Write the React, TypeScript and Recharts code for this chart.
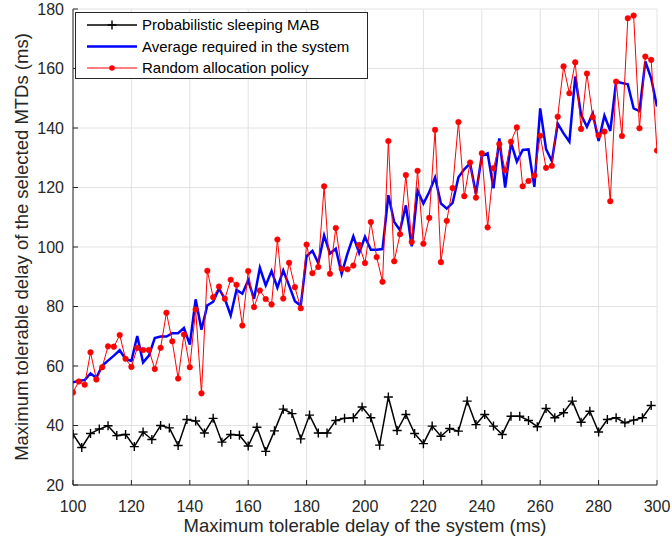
import React from 'react';
import { LineChart, Line, XAxis, YAxis, CartesianGrid, Legend } from 'recharts';

const FONT = '"Liberation Sans", Arial, Helvetica, sans-serif';
const AXIS_COLOR = '#262626';

// x positions of the two policies sampled every 2 ms
const delayX = [
  100, 102, 104, 106, 108, 110, 112, 114, 116, 118,
  120, 122, 124, 126, 128, 130, 132, 134, 136, 138,
  140, 142, 144, 146, 148, 150, 152, 154, 156, 158,
  160, 162, 164, 166, 168, 170, 172, 174, 176, 178,
  180, 182, 184, 186, 188, 190, 192, 194, 196, 198,
  200, 202, 204, 206, 208, 210, 212, 214, 216, 218,
  220, 222, 224, 226, 228, 230, 232, 234, 236, 238,
  240, 242, 244, 246, 248, 250, 252, 254, 256, 258,
  260, 262, 264, 266, 268, 270, 272, 274, 276, 278,
  280, 282, 284, 286, 288, 290, 292, 294, 296, 298,
  300,
];

// MAB curve is sampled every 3 ms
const mabX = [
  100, 103, 106, 109, 112, 115, 118, 121, 124, 127,
  130, 133, 136, 139, 142, 145, 148, 151, 154, 157,
  160, 163, 166, 169, 172, 175, 178, 181, 184, 187,
  190, 193, 196, 199, 202, 205, 208, 211, 214, 217,
  220, 223, 226, 229, 232, 235, 238, 241, 244, 247,
  250, 253, 256, 259, 262, 265, 268, 271, 274, 277,
  280, 283, 286, 289, 292, 295, 298,
];

const sleepingMab = [
  37.1, 32.6, 37.3, 38.8, 39.9, 36.6, 37.0, 32.9, 37.8, 35.3,
  40.0, 39.2, 33.3, 42.0, 41.5, 37.5, 42.4, 34.4, 37.0, 36.7,
  33.1, 39.4, 31.3, 38.2, 45.5, 44.0, 35.5, 43.5, 37.5, 37.5,
  41.7, 42.4, 42.6, 46.2, 42.6, 33.4, 49.6, 38.3, 43.7, 37.3,
  33.9, 39.8, 36.4, 39.0, 38.1, 48.2, 40.3, 43.7, 39.8, 37.0,
  43.1, 43.1, 41.7, 39.6, 45.7, 42.6, 44.3, 48.2, 41.1, 44.8,
  37.8, 42.0, 42.6, 40.9, 41.8, 42.6, 46.7,
];

const averageRequired = [
  54.5, 55.0, 55.3, 57.5, 56.0, 60.1, 61.8, 63.5, 65.3, 62.3,
  61.7, 70.1, 61.2, 63.5, 69.4, 69.9, 69.9, 71.0, 71.0, 72.8,
  67.2, 82.4, 72.2, 80.4, 81.6, 86.0, 82.6, 77.0, 85.6, 84.3,
  88.8, 82.6, 93.0, 87.1, 91.9, 86.3, 92.1, 87.1, 81.8, 80.3,
  96.9, 98.7, 94.6, 103.9, 97.8, 99.4, 91.0, 97.8, 103.6, 98.0,
  103.4, 99.1, 99.1, 99.3, 117.4, 108.4, 105.6, 114.0, 100.2, 118.9,
  114.6, 118.5, 123.4, 114.6, 112.9, 114.8, 123.4, 126.1, 128.1, 117.8,
  130.6, 131.5, 119.7, 136.5, 120.0, 135.1, 128.7, 132.6, 132.8, 120.2,
  146.6, 132.9, 128.9, 141.5, 138.2, 135.4, 157.3, 144.4, 140.4, 144.9,
  135.6, 144.2, 139.0, 155.6, 155.1, 154.7, 146.6, 145.7, 162.4, 156.7,
  147.2,
];

const randomPolicy = [
  51.1, 54.8, 53.7, 64.6, 55.5, 59.6, 66.6, 66.5, 70.4, 62.4,
  59.7, 66.1, 65.4, 65.4, 59.0, 66.1, 77.9, 68.3, 55.8, 70.6,
  59.6, 79.0, 50.8, 92.0, 83.1, 86.7, 82.6, 89.0, 87.3, 73.6,
  91.9, 79.8, 85.4, 82.5, 80.7, 102.5, 82.7, 94.7, 86.5, 79.4,
  100.8, 91.2, 93.3, 120.4, 91.0, 106.4, 92.7, 92.5, 93.8, 100.7,
  94.6, 108.4, 96.6, 88.3, 135.6, 95.2, 104.3, 124.2, 101.7, 125.6,
  101.1, 109.8, 139.4, 94.9, 108.8, 119.8, 142.0, 117.1, 128.4, 116.6,
  131.5, 106.6, 126.5, 134.6, 125.8, 135.4, 140.2, 120.4, 122.2, 124.0,
  137.4, 126.6, 127.3, 143.8, 160.7, 151.7, 162.1, 139.7, 158.3, 143.6,
  137.6, 138.8, 115.4, 155.6, 137.3, 176.9, 177.8, 139.9, 164.0, 162.9,
  132.4,
];

const xTicks = [100, 120, 140, 160, 180, 200, 220, 240, 260, 280, 300];
const yTicks = [20, 40, 60, 80, 100, 120, 140, 160, 180];

const mabData = mabX.map((x, i) => ({ x, y: sleepingMab[i] }));
const avgData = delayX.map((x, i) => ({ x, y: averageRequired[i] }));
const randomData = delayX.map((x, i) => ({ x, y: randomPolicy[i] }));

const PlusMarker = (props: any) => {
  const { cx, cy, index } = props;
  if (cx == null || cy == null) return <g key={`m${index}`} />;
  return (
    <path
      key={`m${index}`}
      d={`M${cx - 4.5} ${cy}H${cx + 4.5}M${cx} ${cy - 4.5}V${cy + 4.5}`}
      stroke='#000'
      strokeWidth={1.4}
      fill='none'
    />
  );
};

const LegendBox = () => {
  const rows = [
    { label: 'Probabilistic sleeping MAB', color: '#000', width: 1.5, marker: 'plus' },
    { label: 'Average required in the system', color: '#0000ff', width: 2.5, marker: 'none' },
    { label: 'Random allocation policy', color: '#ff0000', width: 1, marker: 'dot' },
  ];
  return (
    <svg width={293} height={67} style={{ display: 'block' }}>
      <rect x={0.5} y={0.5} width={292} height={66} fill='#fff' stroke={AXIS_COLOR} />
      {rows.map((r, i) => {
        const y = 13 + i * 21.5;
        return (
          <g key={r.label}>
            <line x1={12} x2={62} y1={y} y2={y} stroke={r.color} strokeWidth={r.width} />
            {r.marker === 'plus' && (
              <path d={`M32.5 ${y}H41.5M37 ${y - 4.5}V${y + 4.5}`} stroke='#000' strokeWidth={1.4} />
            )}
            {r.marker === 'dot' && <circle cx={37} cy={y} r={2.8} fill='#ff0000' />}
            <text x={67} y={y + 5.3} fontSize={15} fontFamily={FONT} fill='#000'>
              {r.label}
            </text>
          </g>
        );
      })}
    </svg>
  );
};

const tickStyle = { fontSize: 16, fill: AXIS_COLOR, fontFamily: FONT };

const App: React.FC = () => {
  return (
    <div style={{ position: 'absolute', left: 0, top: 0 }}>
      <LineChart width={672} height={537} margin={{ top: 9, right: 15, bottom: 0, left: 0 }}>
        <CartesianGrid stroke='#e2e2e2' strokeWidth={1} />
        <XAxis
          type='number'
          dataKey='x'
          domain={[100, 300]}
          ticks={xTicks}
          allowDataOverflow
          height={52}
          tickSize={-5}
          tickMargin={21}
          stroke={AXIS_COLOR}
          tick={tickStyle}
          label={{
            content: () => (
              <text x={365} y={532} textAnchor='middle' fontSize={18.5} fontFamily={FONT} fill={AXIS_COLOR}>
                Maximum tolerable delay of the system (ms)
              </text>
            ),
          }}
        />
        <XAxis
          xAxisId='top'
          orientation='top'
          type='number'
          dataKey='x'
          domain={[100, 300]}
          ticks={xTicks}
          allowDataOverflow
          height={0}
          tickSize={-5}
          stroke={AXIS_COLOR}
          tickFormatter={() => ''}
        />
        <YAxis
          type='number'
          domain={[20, 180]}
          ticks={yTicks}
          allowDataOverflow
          width={73}
          tickSize={-5}
          tickMargin={14}
          stroke={AXIS_COLOR}
          tick={tickStyle}
          label={{
            content: () => (
              <text
                x={22}
                y={253}
                transform='rotate(-90 22 247)'
                textAnchor='middle'
                fontSize={18.5}
                fontFamily={FONT}
                fill={AXIS_COLOR}
              >
                Maximum tolerable delay of the selected MTDs (ms)
              </text>
            ),
          }}
        />
        <YAxis
          yAxisId='right'
          orientation='right'
          type='number'
          domain={[20, 180]}
          ticks={yTicks}
          allowDataOverflow
          width={0}
          tickSize={-5}
          stroke={AXIS_COLOR}
          tickFormatter={() => ''}
        />
        <Legend
          layout='horizontal'
          verticalAlign='middle'
          align='center'
          wrapperStyle={{ left: 75, top: 12, width: 293, height: 67 }}
          content={() => <LegendBox />}
        />
        <Line
          data={mabData}
          dataKey='y'
          type='linear'
          stroke='#000'
          strokeWidth={1.5}
          dot={PlusMarker}
          activeDot={false}
          isAnimationActive={false}
        />
        <Line
          data={avgData}
          dataKey='y'
          type='linear'
          stroke='#0000ff'
          strokeWidth={2.5}
          dot={false}
          activeDot={false}
          isAnimationActive={false}
        />
        <Line
          data={randomData}
          dataKey='y'
          type='linear'
          stroke='#ff0000'
          strokeWidth={1}
          dot={{ r: 2.8, fill: '#ff0000', stroke: '#ff0000', strokeWidth: 0.5 }}
          activeDot={false}
          isAnimationActive={false}
        />
      </LineChart>
    </div>
  );
};

export default App;
